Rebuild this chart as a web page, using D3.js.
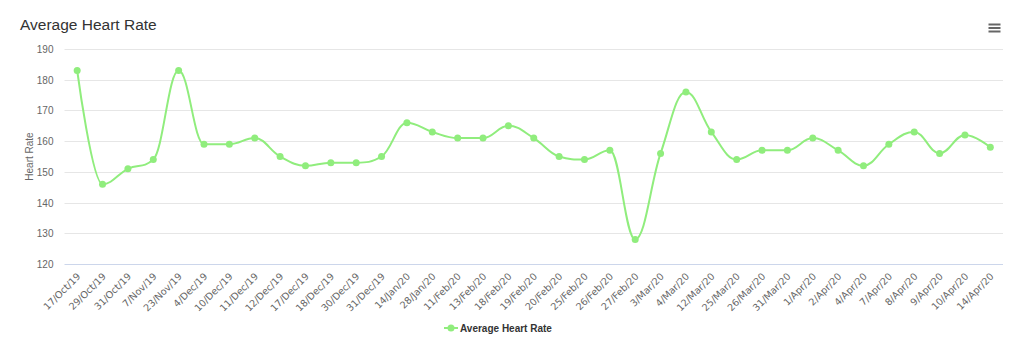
<!DOCTYPE html>
<html><head><meta charset="utf-8">
<script src="https://cdn.jsdelivr.net/npm/d3@7"></script>
<style>body{margin:0;background:#fff}svg{display:block}</style>
</head><body><svg id="c" width="1024" height="360"></svg>
<script>
const categories = ["17/Oct/19","29/Oct/19","31/Oct/19","7/Nov/19","23/Nov/19","4/Dec/19","10/Dec/19","11/Dec/19","12/Dec/19","17/Dec/19","18/Dec/19","30/Dec/19","31/Dec/19","14/Jan/20","28/Jan/20","11/Feb/20","13/Feb/20","18/Feb/20","19/Feb/20","20/Feb/20","25/Feb/20","26/Feb/20","27/Feb/20","3/Mar/20","4/Mar/20","12/Mar/20","25/Mar/20","26/Mar/20","31/Mar/20","1/Apr/20","2/Apr/20","4/Apr/20","7/Apr/20","8/Apr/20","9/Apr/20","10/Apr/20","14/Apr/20"];
const heartRate = [183,146,151,154,183,159,159,161,155,152,153,153,155,166,163,161,161,165,161,155,154,157,128,156,176,163,154,157,157,161,157,152,159,163,156,162,158];
const yTicks = [120,130,140,150,160,170,180,190];
const seriesName = "Average Heart Rate";
const titleText = "Average Heart Rate";
const yTitle = "Heart Rate";

const color = "#90ed7d";
const font = "'Liberation Sans', Arial, sans-serif";
const xFont = "'DejaVu Sans', sans-serif";
const svg = d3.select("#c");
const L = 64.5, R = 1003, T = 49, B = 264;

const x = d3.scaleBand().domain(categories).range([L, R]).padding(0);
const cx = d => x(d) + x.bandwidth()/2;
const y = d3.scaleLinear().domain([120,190]).range([B, T]);

svg.append("text").attr("x", 20).attr("y", 30).attr("font-family", font).attr("font-size", 15.5).attr("fill", "#333").text(titleText);

// hamburger
[24.5, 28, 31.5].forEach(v => svg.append("line").attr("x1", 988.5).attr("x2", 1000.5).attr("y1", v).attr("y2", v).attr("stroke", "#666").attr("stroke-width", 2));

// gridlines
svg.append("g").selectAll("line").data(yTicks.filter(t => t !== 120)).join("line")
  .attr("x1", L).attr("x2", R).attr("y1", d => Math.round(y(d)) + 0.5).attr("y2", d => Math.round(y(d)) + 0.5)
  .attr("stroke", "#e6e6e6");

// y axis labels
const yAxis = d3.axisLeft(y).tickValues(yTicks).tickSize(0).tickPadding(0);
const gy = svg.append("g").attr("transform", `translate(${L - 11},0)`).call(yAxis);
gy.select(".domain").remove();
gy.selectAll("text").attr("font-family", font).attr("font-size", 10).attr("fill", "#666").attr("dy", "0.35em");

svg.append("text").attr("transform", `translate(33,${(T + B)/2}) rotate(-90)`).attr("text-anchor", "middle")
  .attr("font-family", font).attr("font-size", 10).attr("fill", "#666").text(yTitle);

// x axis
const xAxis = d3.axisBottom(x).tickSize(0).tickPadding(0);
const gx = svg.append("g").attr("transform", `translate(0,${B})`).call(xAxis);
gx.select(".domain").attr("stroke", "#ccd6eb").attr("d", `M${L},0.5H${R}`);
gx.selectAll(".tick text").attr("font-family", xFont).attr("font-size", 9.6).attr("fill", "#666")
  .attr("text-anchor", "end").attr("dy", null).attr("y", 0)
  .attr("transform", "translate(4,13) rotate(-45)");

// Highcharts-style spline
function splinePath(pts) {
  const sm = 1.5, den = sm + 1;
  const ctrl = pts.map((p, i) => {
    if (i === 0 || i === pts.length - 1) return null;
    const [lx, ly] = pts[i-1], [nx, ny] = pts[i+1], [px, py] = p;
    let lcx = (sm*px + lx)/den, lcy = (sm*py + ly)/den, rcx = (sm*px + nx)/den, rcy = (sm*py + ny)/den;
    let corr = 0;
    if (rcx !== lcx) corr = ((rcy - lcy)*(rcx - px))/(rcx - lcx) + py - rcy;
    lcy += corr; rcy += corr;
    if (lcy > ly && lcy > py) { lcy = Math.max(ly, py); rcy = 2*py - lcy; }
    else if (lcy < ly && lcy < py) { lcy = Math.min(ly, py); rcy = 2*py - lcy; }
    if (rcy > ny && rcy > py) { rcy = Math.max(ny, py); lcy = 2*py - rcy; }
    else if (rcy < ny && rcy < py) { rcy = Math.min(ny, py); lcy = 2*py - rcy; }
    return {lcx, lcy, rcx, rcy};
  });
  const path = d3.path();
  path.moveTo(pts[0][0], pts[0][1]);
  for (let i = 1; i < pts.length; i++) {
    const a = ctrl[i-1], b = ctrl[i];
    path.bezierCurveTo(a ? a.rcx : pts[i-1][0], a ? a.rcy : pts[i-1][1], b ? b.lcx : pts[i][0], b ? b.lcy : pts[i][1], pts[i][0], pts[i][1]);
  }
  return path.toString();
}
const pts = categories.map((c, i) => [cx(c), y(heartRate[i])]);
svg.append("path").attr("d", splinePath(pts)).attr("fill", "none").attr("stroke", color).attr("stroke-width", 2);
svg.append("g").selectAll("circle").data(categories).join("circle")
  .attr("cx", d => cx(d)).attr("cy", (d, i) => y(heartRate[i])).attr("r", 3.5).attr("fill", color);

// legend
const lg = svg.append("g").attr("transform", "translate(444,328)");
lg.append("line").attr("x1", 0).attr("x2", 14).attr("y1", 0).attr("y2", 0).attr("stroke", color).attr("stroke-width", 2);
lg.append("circle").attr("cx", 7).attr("cy", 0).attr("r", 3.5).attr("fill", color);
lg.append("text").attr("x", 16).attr("y", 0).attr("dy", "0.35em").attr("font-family", font).attr("font-size", 10)
  .attr("font-weight", "bold").attr("fill", "#333").text(seriesName);
</script></body></html>
